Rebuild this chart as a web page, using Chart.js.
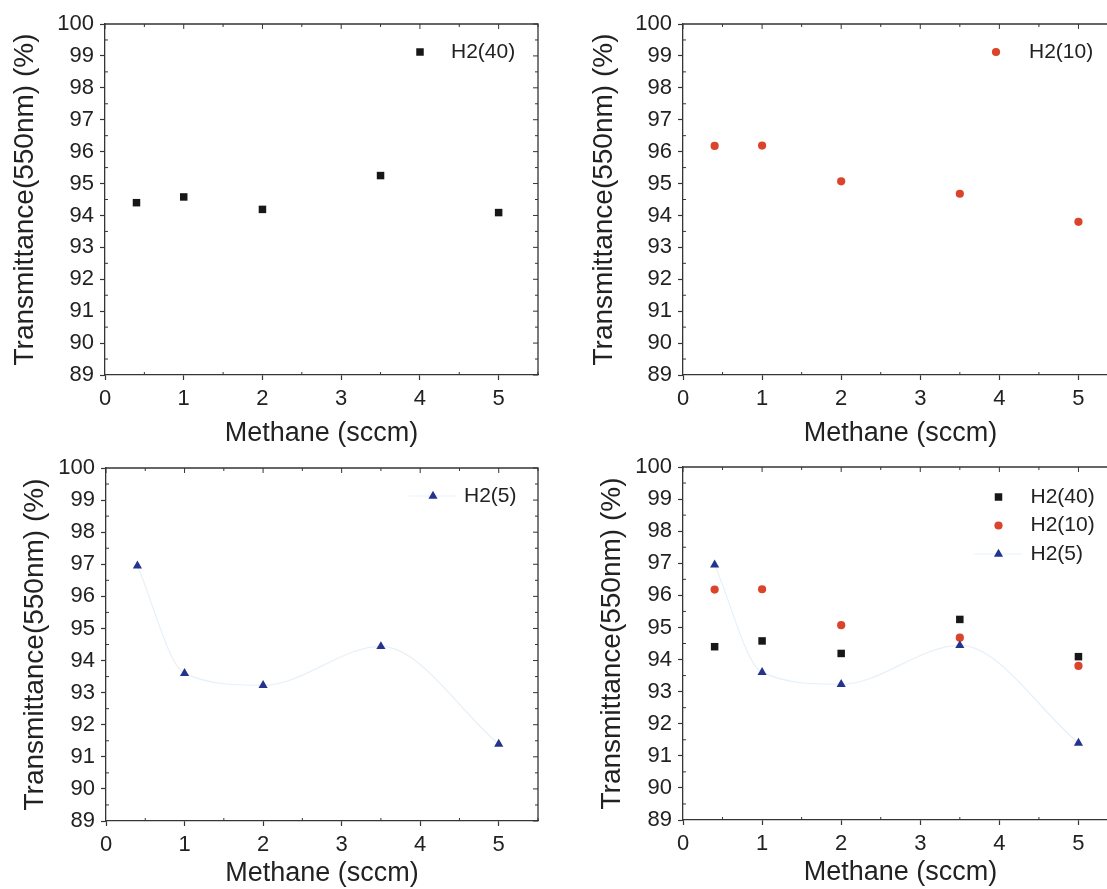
<!DOCTYPE html>
<html>
<head>
<meta charset="utf-8">
<title>Transmittance vs methane flow</title>
<script src="https://cdn.jsdelivr.net/npm/chart.js@4.4.1/dist/chart.umd.min.js"></script>
<style>
  html, body { margin: 0; padding: 0; background: #fff; overflow: hidden; width: 1107px; height: 889px; }
  canvas.panel { position: absolute; display: block; }
</style>
</head>
<body>
<canvas id="panelH40" class="panel"></canvas>
<canvas id="panelH10" class="panel"></canvas>
<canvas id="panelH5" class="panel"></canvas>
<canvas id="panelAll" class="panel"></canvas>
<script>
// Methane flow (sccm) used for every run
const methane = [0.4, 1, 2, 3.5, 5];

// Transmittance at 550 nm (%) for each hydrogen flow
const h2_40 = [94.40, 94.58, 94.19, 95.25, 94.09];
const h2_10 = [96.18, 96.19, 95.07, 94.68, 93.80];
const h2_5  = [96.95, 93.60, 93.23, 94.44, 91.40];

const seriesNames = ['H2(40)', 'H2(10)', 'H2(5)'];
const seriesValues = [h2_40, h2_10, h2_5];

// Axis ranges and labels
const xBounds = [0, 5.5];
const yBounds = [89, 100];
const xTitle = 'Methane (sccm)';
const yTitle = 'Transmittance(550nm) (%)';

const FONT = "'Liberation Sans', Arial, Helvetica, sans-serif";
const INK = '#222222';
const AXIS = '#353535';

const seriesStyle = [
  { pointStyle: 'rect',     radius: 5.3, color: '#171717', line: false, order: 2 },
  { pointStyle: 'circle',   radius: 4.1, color: '#d9442b', line: false, order: 1 },
  { pointStyle: 'triangle', radius: 5.3, color: '#25338f', line: true,  order: 0 }
];

function makeDataset(i) {
  const s = seriesStyle[i];
  return {
    label: seriesNames[i],
    data: methane.map((x, k) => ({ x: x, y: seriesValues[i][k] })),
    pointStyle: s.pointStyle,
    pointRadius: s.radius,
    pointHoverRadius: s.radius,
    pointBackgroundColor: s.color,
    pointBorderColor: s.color,
    pointBorderWidth: 0,
    showLine: s.line,
    borderColor: 'rgba(200, 222, 242, 0.45)',
    borderWidth: 1.2,
    cubicInterpolationMode: 'monotone',
    fill: false,
    order: s.order
  };
}

// Closed frame: top/right edges with inward ticks, minor ticks on the lower/left axes
const framePlugin = {
  id: 'frame',
  afterDraw(chart) {
    const { ctx, chartArea: a, scales } = chart;
    const xs = scales.x, ys = scales.y;
    ctx.save();
    ctx.strokeStyle = AXIS;
    ctx.lineWidth = 1.3;
    ctx.beginPath();
    ctx.moveTo(a.left, a.top);
    ctx.lineTo(a.right, a.top);
    ctx.lineTo(a.right, a.bottom);
    ctx.stroke();

    ctx.lineWidth = 1;
    ctx.beginPath();
    for (let v = xBounds[0]; v <= xBounds[1] + 1e-9; v += 0.5) {
      const px = xs.getPixelForValue(v);
      const major = Math.abs(v - Math.round(v)) < 1e-9;
      ctx.moveTo(px, a.top);
      ctx.lineTo(px, a.top + (major ? 5 : 3));
      if (!major) {
        ctx.moveTo(px, a.bottom);
        ctx.lineTo(px, a.bottom - 3);
      }
    }
    for (let v = yBounds[0]; v <= yBounds[1] + 1e-9; v += 0.5) {
      const py = ys.getPixelForValue(v);
      const major = Math.abs(v - Math.round(v)) < 1e-9;
      ctx.moveTo(a.right, py);
      ctx.lineTo(a.right - (major ? 5 : 3), py);
      if (!major) {
        ctx.moveTo(a.left, py);
        ctx.lineTo(a.left + 3, py);
      }
    }
    ctx.stroke();
    ctx.restore();
  }
};

// Series key drawn inside the plot frame, upper right
const keyPlugin = {
  id: 'seriesKey',
  afterDraw(chart, args, opts) {
    const { ctx, chartArea: a } = chart;
    chart.data.datasets.forEach((ds, i) => {
      const mx = a.right + opts.dx;
      const my = a.top + opts.dy + i * opts.gap;
      ctx.save();
      if (ds.showLine) {
        ctx.strokeStyle = ds.borderColor;
        ctx.lineWidth = ds.borderWidth;
        ctx.beginPath();
        ctx.moveTo(mx - 24, my);
        ctx.lineTo(mx + 24, my);
        ctx.stroke();
      }
      ctx.fillStyle = ds.pointBackgroundColor;
      ctx.strokeStyle = ds.pointBorderColor;
      Chart.helpers.drawPoint(ctx, {
        pointStyle: ds.pointStyle, radius: ds.pointRadius, rotation: 0, borderWidth: 0
      }, mx, my);
      ctx.fillStyle = INK;
      ctx.font = opts.size + 'px ' + FONT;
      ctx.textBaseline = 'middle';
      ctx.textAlign = 'left';
      ctx.fillText(ds.label, mx + opts.textGap, my);
      ctx.restore();
    });
  }
};

function buildPanel(id, box, geom, seriesIdx, key) {
  const cv = document.getElementById(id);
  cv.width = box.w;
  cv.height = box.h;
  cv.style.left = box.x + 'px';
  cv.style.top = box.y + 'px';
  cv.style.width = box.w + 'px';
  cv.style.height = box.h + 'px';

  return new Chart(cv, {
    type: 'scatter',
    data: { datasets: seriesIdx.map(makeDataset) },
    options: {
      responsive: false,
      animation: false,
      devicePixelRatio: 1,
      events: [],
      layout: { padding: { top: geom.top, right: geom.right, left: 0, bottom: 0 } },
      plugins: {
        legend: { display: false },
        tooltip: { enabled: false },
        seriesKey: key
      },
      scales: {
        x: {
          type: 'linear',
          min: xBounds[0],
          max: xBounds[1],
          afterFit(scale) { scale.height = geom.xh; },
          ticks: {
            stepSize: 1, includeBounds: false, autoSkip: false, maxRotation: 0,
            font: { family: FONT, size: 22 }, color: INK, padding: 6
          },
          grid: { drawOnChartArea: false, drawTicks: true, tickLength: 5, tickColor: AXIS, tickWidth: 1.2 },
          border: { display: true, color: AXIS, width: 1.3 },
          title: {
            display: true, text: xTitle, color: INK,
            font: { family: FONT, size: 27 }, padding: { top: 0, bottom: 0 }
          }
        },
        y: {
          type: 'linear',
          min: yBounds[0],
          max: yBounds[1],
          afterFit(scale) { scale.width = geom.yw; },
          ticks: {
            stepSize: 1, includeBounds: false, autoSkip: false,
            font: { family: FONT, size: 22 }, color: INK, padding: 6
          },
          grid: { drawOnChartArea: false, drawTicks: true, tickLength: 5, tickColor: AXIS, tickWidth: 1.2 },
          border: { display: true, color: AXIS, width: 1.3 },
          title: {
            display: true, text: yTitle, color: INK,
            font: { family: FONT, size: 28 }, padding: { top: 0, bottom: 0 }
          }
        }
      }
    },
    plugins: [framePlugin, keyPlugin]
  });
}

buildPanel('panelH40', { x: 8, y: 0, w: 540, h: 450 },
  { top: 24, right: 10, yw: 97, xh: 75 }, [0],
  { dx: -118, dy: 28, gap: 28.5, textGap: 31, size: 21 });

buildPanel('panelH10', { x: 587, y: 0, w: 541, h: 450 },
  { top: 24, right: 10, yw: 96, xh: 75 }, [1],
  { dx: -122, dy: 28, gap: 28.5, textGap: 33, size: 21 });

buildPanel('panelH5', { x: 18, y: 444, w: 530, h: 446 },
  { top: 24, right: 10, yw: 88, xh: 69 }, [2],
  { dx: -105, dy: 28, gap: 28.5, textGap: 31, size: 21 });

buildPanel('panelAll', { x: 595, y: 443, w: 533, h: 446 },
  { top: 24, right: 10, yw: 88, xh: 69 }, [0, 1, 2],
  { dx: -119.5, dy: 30, gap: 28.5, textGap: 32, size: 21 });
</script>
</body>
</html>
